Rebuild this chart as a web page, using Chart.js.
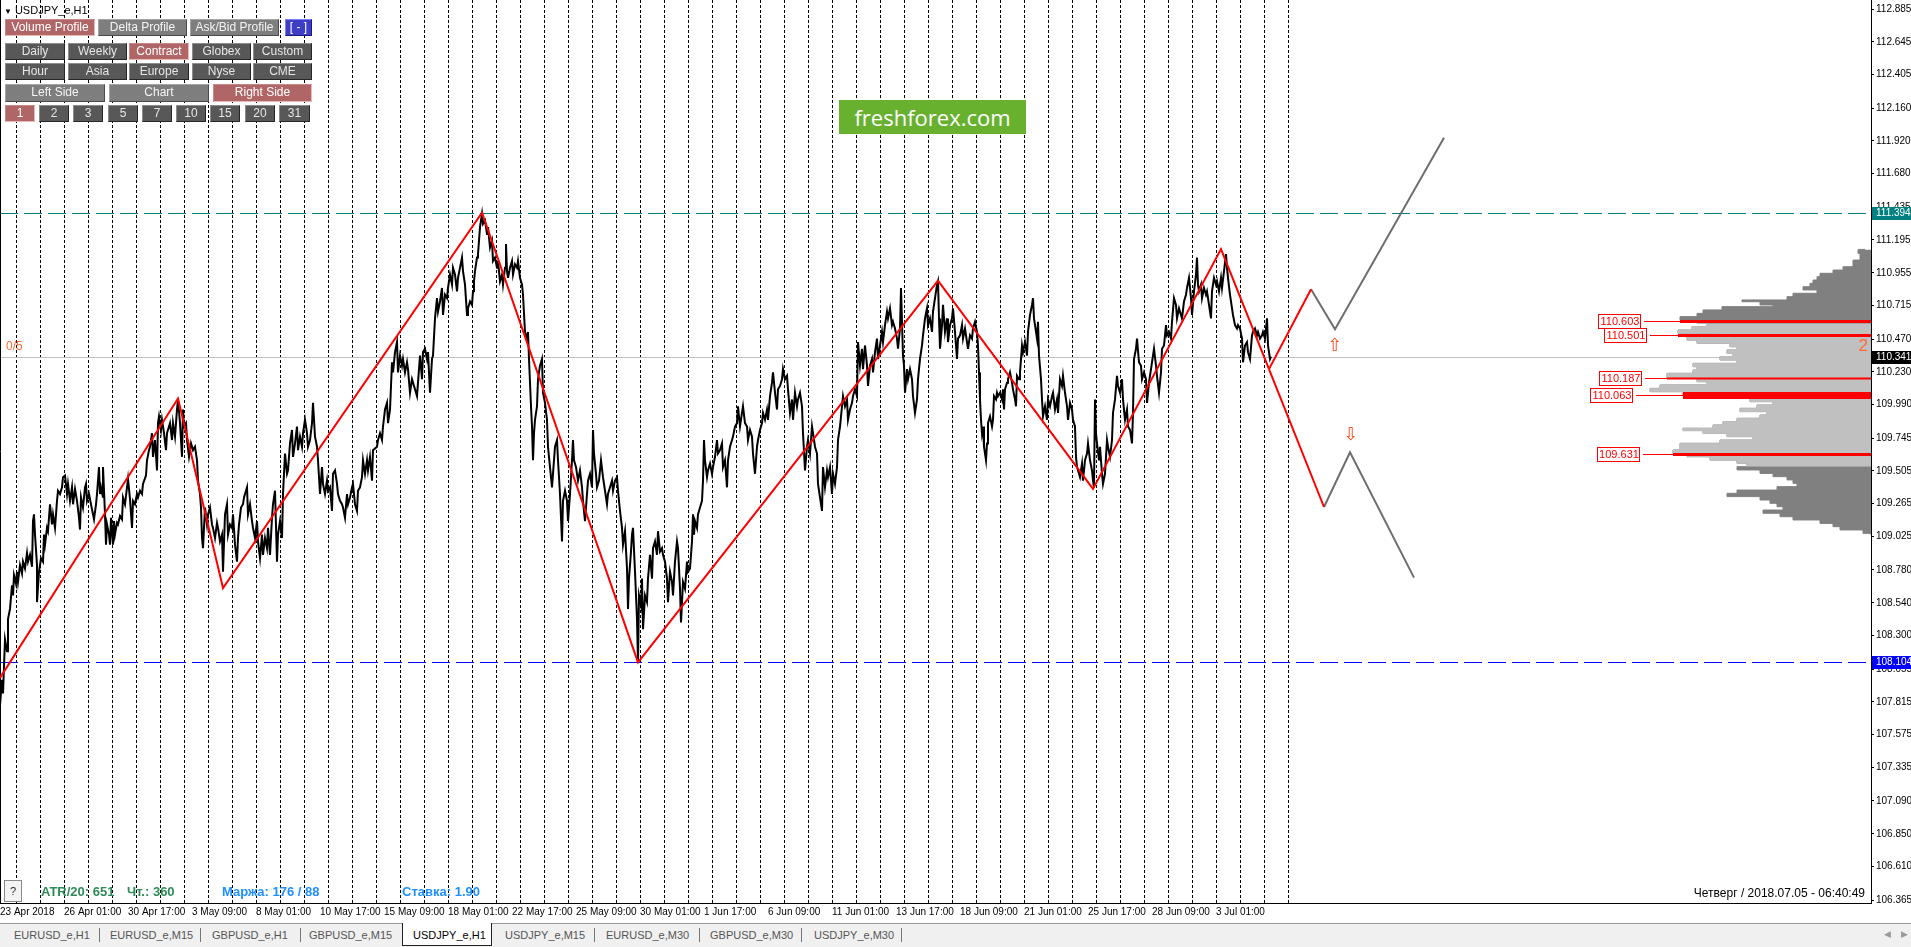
<!DOCTYPE html>
<html>
<head>
<meta charset="utf-8">
<script src="https://cdn.jsdelivr.net/npm/chart.js@4.4.1/dist/chart.umd.min.js"></script>
<style>
  html, body { margin: 0; padding: 0; width: 1911px; height: 947px; overflow: hidden; background: #fff; }
  #wrap { position: relative; width: 1911px; height: 947px; font-family: "Liberation Sans", Arial, sans-serif; }
  #c { position: absolute; left: 0; top: 0; }
  .title { position: absolute; left: 4px; top: 4px; font-size: 11px; color: #000; }
  .title b { font-size: 8px; font-weight: normal; margin-right: 3px; }
  .btn { position: absolute; height: 17px; box-sizing: border-box; font-size: 12px; line-height: 15px; text-align: center;
         color: #e6e6e6; background: #585858; border: 1px solid; border-color: #8c8c8c #262626 #262626 #8c8c8c; white-space: nowrap; overflow: hidden; }
  .btn.lt { background: #7e7e7e; color: #f4f4f4; border-color: #a5a5a5 #4b4b4b #4b4b4b #a5a5a5; }
  .btn.on { background: #b06666; color: #fff; border-color: #c48888 #ecb8b8 #ecb8b8 #c48888; }
  .btn.bl { background: #3d3dc6; color: #fff; border-color: #8080ff #1a1a80 #1a1a80 #8080ff; }
  .logo { position: absolute; left: 839px; top: 100px; width: 187px; height: 34px; background: #68b12f; color: #fff;
          font: 22px "Open Sans", sans-serif; line-height: 34px; text-align: center; }
  .stat { position: absolute; top: 884px; font-size: 13px; font-weight: bold; }
  .qbox { position: absolute; left: 4px; top: 880px; width: 18px; height: 22px; box-sizing: border-box; border: 1px solid #8a8a8a;
          background: #f4f4f4; font-size: 11px; text-align: center; line-height: 20px; color: #333; }
  .clock { position: absolute; right: 46px; top: 886px; font-size: 12px; color: #000; }
  .tabs { position: absolute; left: 0; top: 923px; width: 1911px; height: 24px; background: #f0f0f0; border-top: 1px solid #9a9a9a; box-sizing: border-box; }
  .tab { position: absolute; top: 5px; font-size: 11px; color: #555; }
  .sep { position: absolute; top: 4px; width: 1px; height: 14px; background: #777; }
  .tab.act { color: #000; }
  .actbox { position: absolute; left: 402px; top: -1px; width: 90px; height: 23px; background: #fff; border: 1px solid #222; border-top: none; box-sizing: border-box; }
  .scr { position: absolute; top: 5px; font-size: 9px; color: #999; }
</style>
</head>
<body>
<div id="wrap">
  <canvas id="c" width="1911" height="923"></canvas>

  <div class="title"><b>▼</b>USDJPY_e,H1</div>

  <div class="btn on" style="left:5px;top:19px;width:90px">Volume Profile</div>
  <div class="btn lt" style="left:98px;top:19px;width:89px">Delta Profile</div>
  <div class="btn lt" style="left:190px;top:19px;width:89px">Ask/Bid Profile</div>
  <div class="btn bl" style="left:285px;top:19px;width:27px">[ - ]</div>

  <div class="btn" style="left:5px;top:43px;width:60px">Daily</div>
  <div class="btn" style="left:68px;top:43px;width:59px">Weekly</div>
  <div class="btn on" style="left:129px;top:43px;width:60px">Contract</div>
  <div class="btn" style="left:192px;top:43px;width:59px">Globex</div>
  <div class="btn" style="left:253px;top:43px;width:59px">Custom</div>

  <div class="btn" style="left:5px;top:63px;width:60px">Hour</div>
  <div class="btn" style="left:68px;top:63px;width:59px">Asia</div>
  <div class="btn" style="left:129px;top:63px;width:60px">Europe</div>
  <div class="btn" style="left:192px;top:63px;width:59px">Nyse</div>
  <div class="btn" style="left:253px;top:63px;width:59px">CME</div>

  <div class="btn lt" style="left:5px;top:84px;width:100px;height:18px">Left Side</div>
  <div class="btn lt" style="left:109px;top:84px;width:100px;height:18px">Chart</div>
  <div class="btn on" style="left:213px;top:84px;width:99px;height:18px">Right Side</div>

  <div class="btn on" style="left:5px;top:105px;width:30px">1</div>
  <div class="btn" style="left:39px;top:105px;width:30px">2</div>
  <div class="btn" style="left:73px;top:105px;width:30px">3</div>
  <div class="btn" style="left:108px;top:105px;width:30px">5</div>
  <div class="btn" style="left:142px;top:105px;width:30px">7</div>
  <div class="btn" style="left:176px;top:105px;width:30px">10</div>
  <div class="btn" style="left:210px;top:105px;width:30px">15</div>
  <div class="btn" style="left:245px;top:105px;width:30px">20</div>
  <div class="btn" style="left:279px;top:105px;width:31px">31</div>

  <div class="logo">freshforex.com</div>

  <div class="qbox">?</div>
  <div class="stat" style="left:41px;color:#2e8b57">ATR/20: 651</div>
  <div class="stat" style="left:127px;color:#2e8b57">Чт.: 360</div>
  <div class="stat" style="left:222px;color:#1e90ff">Маржа: 176 / 88</div>
  <div class="stat" style="left:402px;color:#1e90ff">Ставка: 1.90</div>
  <div class="clock">Четверг / 2018.07.05 - 06:40:49</div>

  <div class="tabs">
    <div class="actbox"></div>
    <div class="tab" style="left:14px">EURUSD_e,H1</div>
    <div class="sep" style="left:99px"></div>
    <div class="tab" style="left:110px">EURUSD_e,M15</div>
    <div class="sep" style="left:200px"></div>
    <div class="tab" style="left:212px">GBPUSD_e,H1</div>
    <div class="sep" style="left:300px"></div>
    <div class="tab" style="left:309px">GBPUSD_e,M15</div>
    <div class="tab act" style="left:413px">USDJPY_e,H1</div>
    <div class="tab" style="left:505px">USDJPY_e,M15</div>
    <div class="sep" style="left:594px"></div>
    <div class="tab" style="left:606px">EURUSD_e,M30</div>
    <div class="sep" style="left:699px"></div>
    <div class="tab" style="left:710px">GBPUSD_e,M30</div>
    <div class="sep" style="left:801px"></div>
    <div class="tab" style="left:814px">USDJPY_e,M30</div>
    <div class="sep" style="left:901px"></div>
    <div class="scr" style="left:1884px">◀</div>
    <div class="scr" style="left:1901px">▶</div>
  </div>
</div>

<script>
// time axis (bar index -> label)
const timeTicks = [0, 64, 128, 192, 256, 320, 384, 448, 512, 576, 640, 704, 768, 832, 896, 960, 1024, 1088, 1152, 1216];
const timeLabels = ["23 Apr 2018", "26 Apr 01:00", "30 Apr 17:00", "3 May 09:00", "8 May 01:00", "10 May 17:00",
  "15 May 09:00", "18 May 01:00", "22 May 17:00", "25 May 09:00", "30 May 01:00", "1 Jun 17:00", "6 Jun 09:00",
  "11 Jun 01:00", "13 Jun 17:00", "18 Jun 09:00", "21 Jun 01:00", "25 Jun 17:00", "28 Jun 09:00", "3 Jul 01:00"];

// price axis
const priceTicks = [112.885, 112.645, 112.405, 112.160, 111.920, 111.680, 111.435, 111.195, 110.955, 110.715,
  110.470, 110.230, 109.990, 109.745, 109.505, 109.265, 109.025, 108.780, 108.540, 108.300, 108.055, 107.815,
  107.575, 107.335, 107.090, 106.850, 106.610, 106.365];

// day separators (bar index)
const separators = [16, 40, 64, 88, 112, 136, 160, 184, 208, 232, 256, 280, 304, 328, 352, 376, 400, 424, 448,
  472, 496, 520, 544, 568, 592, 616, 640, 664, 688, 712, 736, 760, 784, 808, 832, 856, 880, 904, 928, 952, 976,
  1000, 1024, 1048, 1072, 1096, 1120, 1144, 1168, 1192, 1216, 1240, 1264, 1288];

// USDJPY H1 price path [bar, price]
const hourlyPath = [
  [0,107.790],[2,107.976],[3,107.877],[5,108.272],[7,108.186],[8,108.421],[10,108.495],[12,108.668],[13,108.594],[14,108.742],
  [16,108.680],[17,108.767],[18,108.693],[20,108.816],[22,108.755],[23,108.841],[25,108.792],[27,108.903],[28,108.841],[30,108.891],
  [32,108.804],[33,109.138],[34,109.187],[35,109.039],[37,108.816],[37,108.545],[39,108.767],[41,108.866],[43,108.841],[44,109.039],
  [45,108.965],[47,109.088],[48,109.064],[50,109.261],[52,109.113],[53,109.187],[55,109.088],[57,109.286],[58,109.360],[60,109.336],
  [62,109.385],[63,109.459],[65,109.472],[67,109.336],[68,109.410],[70,109.286],[72,109.385],[73,109.261],[75,109.373],[77,109.286],
  [79,109.162],[80,109.076],[81,109.311],[83,109.237],[85,109.385],[86,109.410],[87,109.286],[89,109.336],[91,109.261],[93,109.187],
  [94,109.150],[96,109.261],[97,109.336],[99,109.533],[100,109.336],[101,109.385],[103,109.311],[103,109.533],[105,109.187],[106,108.965],
  [107,109.113],[109,109.039],[110,108.965],[111,109.162],[113,108.965],[114,109.138],[115,109.039],[117,109.125],[118,109.113],[120,109.175],
  [122,109.150],[123,109.311],[125,109.261],[127,109.385],[128,109.447],[130,109.298],[132,109.088],[133,109.286],[135,109.261],[137,109.336],
  [138,109.311],[140,109.360],[142,109.336],[143,109.410],[146,109.472],[147,109.583],[149,109.657],[150,109.682],[152,109.781],[153,109.608],
  [155,109.731],[157,109.509],[158,109.855],[159,109.904],[161,109.805],[162,109.879],[164,109.781],[166,109.657],[167,109.781],[170,109.855],
  [172,109.731],[173,109.855],[175,109.756],[177,109.954],[178,110.028],[180,109.855],[182,109.608],[183,109.954],[184,109.830],[186,109.855],
  [187,109.731],[189,109.608],[191,109.706],[193,109.657],[195,109.682],[197,109.583],[198,109.434],[200,109.336],[201,109.237],[202,109.014],
  [203,108.940],[205,109.237],[207,109.113],[208,109.187],[210,109.237],[212,109.113],[213,109.088],[215,109.014],[217,109.125],[218,109.088],
  [220,108.989],[222,109.039],[223,108.767],[225,109.187],[227,109.261],[228,109.039],[230,109.113],[232,109.088],[233,109.187],[235,108.965],
  [237,108.841],[238,109.014],[239,109.113],[241,109.237],[243,109.261],[244,109.311],[247,109.385],[248,109.187],[250,109.261],[252,109.138],
  [253,109.088],[255,109.014],[257,109.138],[258,108.989],[260,108.866],[262,109.039],[263,108.891],[265,109.014],[267,108.940],[268,109.088],
  [270,108.891],[272,109.162],[273,109.261],[275,109.360],[277,108.841],[278,109.039],[280,109.138],[282,109.014],[283,109.336],[285,109.632],
  [287,109.484],[288,109.509],[290,109.706],[292,109.805],[293,109.608],[295,109.706],[297,109.830],[298,109.657],[300,109.756],[302,109.682],
  [303,109.781],[305,109.879],[307,109.781],[308,109.682],[310,109.731],[312,109.855],[313,110.003],[315,109.756],[317,109.682],[318,109.583],
  [320,109.336],[322,109.533],[323,109.410],[325,109.336],[327,109.434],[328,109.360],
  [330,109.385],[332,109.212],[333,109.484],[335,109.509],[337,109.410],[338,109.336],[340,109.286],[342,109.261],[343,109.237],[345,109.162],
  [347,109.336],[348,109.261],[350,109.311],[352,109.385],[353,109.410],[355,109.261],[357,109.212],[358,109.360],[360,109.385],[362,109.459],
  [363,109.583],[365,109.484],[367,109.583],[368,109.509],[370,109.608],[372,109.434],[373,109.657],[377,109.682],[378,109.731],[380,109.781],
  [382,109.731],[383,109.830],[385,109.954],[387,110.003],[388,109.855],[390,109.954],[392,110.300],[393,110.226],[395,110.374],[397,110.448],
  [398,110.226],[400,110.349],[402,110.275],[403,110.324],[405,110.226],[407,110.300],[408,110.250],[410,110.077],[412,110.176],[413,110.151],
  [415,110.102],[417,110.052],[418,110.151],[420,110.349],[422,110.176],[423,110.374],[425,110.399],[427,110.324],[428,110.374],[430,110.077],
  [432,110.324],[433,110.349],[435,110.621],[437,110.769],[438,110.671],[440,110.745],[442,110.844],[443,110.646],[445,110.794],[447,110.769],
  [448,110.844],[450,110.942],[452,110.868],[453,110.992],[455,110.942],[457,110.819],[458,110.918],[460,110.992],[462,111.066],[463,110.967],
  [465,110.868],[467,110.646],[468,110.695],[470,110.745],[472,110.720],[473,110.819],[474,110.893],[475,110.967],[477,111.066],[478,111.091],
  [480,111.289],[482,111.387],[483,111.313],[485,111.338],[487,111.239],[488,111.289],[490,111.140],[492,111.190],[493,111.041],[495,111.066],
  [497,110.992],[498,111.041],[500,110.893],[502,110.942],[503,110.868],[505,110.992],[506,111.165],[507,110.967],[508,110.918],[510,110.992],
  [512,111.041],[513,110.942],[515,111.017],[517,110.992],[518,111.041],[520,110.918],[522,110.868],[523,110.794],[525,110.522],[527,110.473],
  [528,110.522],[529,110.324],[531,109.978],[532,109.830],[533,109.583],[534,109.781],[535,109.879],[537,109.978],[538,110.176],[540,110.275],
  [542,110.324],[543,110.077],[545,110.003],[547,109.879],[548,109.682],[550,109.533],[552,109.385],[553,109.484],[555,109.682],[557,109.731],
  [558,109.583],[560,109.336],[562,108.989],[563,109.286],[565,109.360],[567,109.286],[568,109.138],[570,109.336],[572,109.583],[573,109.731],
  [574,109.583],[576,109.533],[578,109.434],[580,109.509],[582,109.385],[583,109.286],[585,109.138],[587,109.336],[588,109.434],[590,109.484],
  [592,109.385],[593,109.805],[594,109.632],[596,109.484],[597,109.385],[599,109.434],[601,109.583],[603,109.459],[605,109.360],[607,109.261],
  [608,109.336],[610,109.385],[612,109.434],[613,109.360],[615,109.434],[617,109.459],[618,109.360],[620,109.212],[622,109.088],[623,108.965],
  [625,109.064],[627,108.792],[628,108.495],[629,108.717],[631,108.915],[632,109.039],[633,109.088],[635,108.767],[637,108.421],[638,108.104],
  [639,108.594],[641,108.520],[642,108.717],[643,108.347],[645,108.594],[647,108.545],[648,108.717],
  [650,108.891],[652,108.717],[653,108.940],[655,108.989],[657,108.891],[658,109.064],[660,108.915],[662,108.940],[663,108.891],[665,108.841],
  [667,108.717],[668,108.545],[670,108.767],[672,108.693],[673,108.594],[675,108.841],[677,108.989],[678,108.940],[680,108.643],[681,108.396],
  [683,108.693],[685,108.643],[687,108.841],[688,108.767],[690,108.792],[692,108.989],[693,109.187],[694,109.039],[695,109.138],[697,109.088],
  [698,109.187],[700,109.237],[702,109.286],[703,109.434],[704,109.731],[705,109.583],[707,109.459],[708,109.509],[710,109.558],[712,109.484],
  [713,109.533],[715,109.608],[717,109.731],[718,109.632],[720,109.657],[722,109.706],[723,109.533],[725,109.583],[727,109.385],[728,109.583],
  [730,109.682],[732,109.731],[733,109.756],[735,109.830],[737,109.855],[738,109.978],[740,109.830],[742,109.929],[743,109.978],[745,109.855],
  [747,109.830],[748,109.731],[750,109.805],[752,109.756],[753,109.632],[755,109.484],[757,109.682],[758,109.731],[760,109.805],[762,109.855],
  [763,109.929],[765,109.879],[767,109.954],[768,109.879],[770,110.052],[772,110.151],[773,110.226],[775,110.077],[777,109.954],[778,110.102],
  [780,110.127],[782,110.176],[783,110.250],[785,110.176],[787,110.201],[788,110.102],[790,109.929],[792,110.028],[793,109.879],[795,110.077],
  [797,109.978],[798,110.028],[800,110.077],[802,109.978],[803,109.781],[805,109.509],[807,109.682],[808,109.731],[810,109.632],[812,109.830],
  [813,109.781],[815,109.682],[817,109.632],[818,109.410],[820,109.311],[822,109.212],[823,109.533],[825,109.385],[827,109.509],[828,109.459],
  [830,109.533],[832,109.336],[833,109.484],[835,109.410],[837,109.533],[838,109.731],[840,109.830],[842,109.978],[843,110.052],[845,109.978],
  [847,110.028],[848,109.879],[850,109.954],[852,110.003],[853,110.052],[855,110.102],[857,110.052],[858,110.448],[860,110.275],[862,110.399],
  [863,110.250],[865,110.423],[867,110.275],[868,110.127],[870,110.275],[872,110.324],[873,110.226],[875,110.374],[877,110.473],[878,110.324],
  [880,110.423],[882,110.522],[883,110.448],[885,110.572],[887,110.671],[888,110.621],[890,110.695],[892,110.572],[893,110.596],[895,110.547],
  [897,110.473],[898,110.399],[900,110.547],[901,110.844],[903,110.349],[904,110.275],[905,110.077],[907,110.250],[908,110.176],[910,110.250],
  [912,110.176],[913,110.052],[915,109.929],[917,110.028],[918,110.176],[920,110.324],[922,110.423],[923,110.497],[925,110.621],[927,110.695],
  [928,110.572],[930,110.621],[932,110.522],[933,110.671],[935,110.769],[937,110.868],[938,110.893],[939,110.621],[940,110.399],[942,110.572],
  [943,110.720],[945,110.522],[947,110.621],[948,110.448],[950,110.572],[952,110.621],[953,110.695],[955,110.522],[957,110.324],[958,110.473],
  [960,110.497],
  [962,110.572],[963,110.473],[965,110.547],[967,110.448],[968,110.399],[970,110.497],[972,110.473],[973,110.547],[975,110.596],[977,110.522],
  [978,110.423],[979,110.226],[980,110.028],[981,109.879],[982,109.781],[983,109.830],[984,109.682],[986,109.583],[987,109.706],[988,109.855],
  [990,109.904],[992,109.830],[993,109.879],[994,110.052],[996,110.028],[997,110.077],[998,110.052],[1000,110.077],[1002,110.028],[1003,110.102],
  [1004,109.954],[1005,110.102],[1007,110.151],[1008,110.176],[1010,110.226],[1012,110.151],[1013,110.102],[1015,110.028],[1016,109.978],[1017,110.201],
  [1019,110.176],[1020,110.226],[1022,110.423],[1023,110.374],[1025,110.448],[1027,110.349],[1028,110.522],[1030,110.646],[1032,110.720],[1033,110.769],
  [1034,110.621],[1035,110.572],[1037,110.473],[1038,110.596],[1039,110.349],[1041,110.176],[1042,110.028],[1043,109.904],[1045,109.978],[1047,109.879],
  [1048,110.028],[1050,109.978],[1052,110.052],[1053,110.077],[1055,109.954],[1057,110.028],[1058,109.929],[1060,110.176],[1062,110.127],[1063,110.201],
  [1065,110.077],[1067,109.978],[1068,109.879],[1070,110.003],[1072,109.954],[1073,109.879],[1075,109.830],[1076,109.608],[1077,109.533],[1079,109.484],
  [1080,109.459],[1082,109.558],[1083,109.434],[1085,109.583],[1087,109.632],[1088,109.706],[1090,109.583],[1092,109.509],[1093,109.434],[1094,109.385],
  [1095,110.028],[1096,109.781],[1097,109.706],[1099,109.583],[1100,109.682],[1102,109.484],[1103,109.410],[1105,109.484],[1107,109.731],[1108,109.682],
  [1110,109.608],[1112,109.731],[1113,109.929],[1115,110.028],[1117,110.201],[1118,110.127],[1120,110.077],[1122,110.176],[1123,110.028],[1125,109.879],
  [1127,109.954],[1128,109.830],[1130,109.805],[1132,109.706],[1133,109.929],[1134,110.324],[1136,110.399],[1137,110.473],[1139,110.300],[1141,110.275],
  [1142,110.176],[1144,110.226],[1146,110.176],[1147,110.003],[1149,110.151],[1151,110.250],[1152,110.300],[1154,110.399],[1156,110.275],[1157,110.201],
  [1159,110.077],[1161,110.226],[1162,110.399],[1164,110.423],[1166,110.572],[1167,110.497],[1169,110.522],[1171,110.473],[1172,110.596],[1174,110.769],
  [1176,110.720],[1177,110.621],[1179,110.695],[1181,110.646],[1182,110.621],[1184,110.745],[1186,110.794],[1187,110.844],[1189,110.918],[1191,110.769],
  [1192,110.646],[1194,110.819],[1196,110.942],[1197,111.066],[1198,110.868],[1199,110.819],[1201,110.868],[1202,110.769],[1204,110.844],[1206,110.794],
  [1207,110.819],[1209,110.720],[1211,110.621],[1212,110.819],[1214,110.918],[1216,110.868],[1217,110.893],[1219,110.819],[1221,110.918],[1222,110.844],
  [1224,110.967],[1226,111.091],[1227,110.992],[1228,110.918],[1230,110.794],[1232,110.695],[1233,110.646],[1235,110.572],[1237,110.547],[1238,110.572],
  [1240,110.547],[1242,110.473],[1243,110.300],[1245,110.423],[1247,110.448],[1248,110.374],[1250,110.324],[1252,110.497],[1253,110.522],[1255,110.547],
  [1257,110.497],[1258,110.522],[1260,110.473],[1262,110.497],[1263,110.522],[1265,110.473],[1267,110.621],[1268,110.423],[1270,110.324],[1271,110.341]
];

// ZigZag and projections
const zigzagX = [0, 178, 223, 482, 638, 938, 1093, 1221, 1269];
const zigzagY = [107.990, 110.035, 108.648, 111.394, 108.104, 110.898, 109.373, 111.128, 110.250];
const upLegX = [1269, 1311];
const upLegY = [110.250, 110.834];
const upProjX = [1311, 1335, 1444];
const upProjY = [110.834, 110.541, 111.943];
const downLegX = [1269, 1324];
const downLegY = [110.250, 109.241];
const downProjX = [1324, 1350, 1414];
const downProjY = [109.241, 109.642, 108.724];
const signalX = [1335, 1351];
const signalY = [110.418, 109.763];

// levels
const highLevel = 111.394;
const lowLevel = 108.104;
const lastPrice = 110.341;

// volume profile (price level -> volume)
const profilePrice = [111.126, 111.097, 111.048, 110.999, 110.975, 110.951, 110.926, 110.902, 110.878, 110.853,
  110.829, 110.805, 110.780, 110.756, 110.743, 110.719, 110.707, 110.683, 110.658, 110.634, 110.609, 110.585,
  110.561, 110.536, 110.512, 110.487, 110.463, 110.439, 110.414, 110.390, 110.365, 110.341, 110.317, 110.292,
  110.268, 110.243, 110.219, 110.183, 110.158, 110.134, 110.109, 110.085, 110.061, 110.036, 110.012, 109.987,
  109.963, 109.939, 109.914, 109.890, 109.865, 109.841, 109.817, 109.800, 109.780, 109.756, 109.731, 109.707,
  109.683, 109.658, 109.634, 109.609, 109.585, 109.561, 109.536, 109.512, 109.487, 109.463, 109.439, 109.414,
  109.390, 109.365, 109.341, 109.317, 109.292, 109.268, 109.243, 109.219, 109.195, 109.170, 109.146, 109.121,
  109.097, 109.073, 109.048, 109.036];
const profileVolume = [6, 13, 11, 18, 28, 38, 51, 54, 58, 61, 68, 54, 78, 84, 129, 111, 98, 149, 168, 174, 191,
  174, 164, 179, 193, 156, 184, 174, 141, 134, 144, 138, 151, 134, 178, 174, 178, 204, 174, 164, 211, 221, 188,
  144, 121, 98, 114, 131, 104, 111, 134, 148, 158, 188, 168, 144, 118, 151, 191, 191, 198, 184, 161, 134, 124,
  134, 111, 98, 84, 78, 74, 94, 134, 144, 111, 101, 94, 88, 108, 91, 78, 51, 38, 31, 8, 0];
const valueAreaHigh = 110.585;
const valueAreaLow = 109.517;
const pocLevels = [110.603, 110.501, 110.187, 110.063, 109.631];

const FONT = '"Liberation Sans", Arial, sans-serif';
const pts = (xs, ys) => xs.map((x, i) => ({ x, y: ys[i] }));

const profileAll = profilePrice.map((p, i) => ({ x: profileVolume[i], y: p }));
const profileVA = profileAll.filter(d => d.y <= valueAreaHigh && d.y >= valueAreaLow);

const pocLabelRight = [1641, 1647, 1642, 1633, 1640];
const pocThick = [3, 3, 2, 7, 3];

const mtPlugin = {
  id: "mt",
  beforeDatasetsDraw(chart) {
    const { ctx, chartArea: a, scales: { x, y } } = chart;
    ctx.save();
    ctx.strokeStyle = "#000";
    ctx.lineWidth = 1;
    ctx.setLineDash([3, 2]);
    separators.forEach(v => {
      const px = Math.round(x.getPixelForValue(v)) + 0.5;
      ctx.beginPath();
      ctx.moveTo(px, a.top);
      ctx.lineTo(px, a.bottom);
      ctx.stroke();
    });
    ctx.setLineDash([18, 6]);
    [[highLevel, "#008080"], [lowLevel, "#0000ff"]].forEach(([v, c]) => {
      const py = Math.round(y.getPixelForValue(v)) + 0.5;
      ctx.strokeStyle = c;
      ctx.beginPath();
      ctx.moveTo(a.left, py);
      ctx.lineTo(a.right, py);
      ctx.stroke();
    });
    ctx.setLineDash([]);
    ctx.strokeStyle = "#c0c0c0";
    const pl = Math.round(y.getPixelForValue(lastPrice)) + 0.5;
    ctx.beginPath();
    ctx.moveTo(a.left, pl);
    ctx.lineTo(a.right, pl);
    ctx.stroke();
    ctx.strokeStyle = "#000";
    ctx.beginPath();
    ctx.moveTo(0.5, a.top);
    ctx.lineTo(0.5, a.bottom);
    ctx.stroke();
    ctx.restore();
  },
  afterDatasetsDraw(chart) {
    const { ctx, chartArea: a, scales: { x, y, xp } } = chart;
    ctx.save();
    pocLevels.forEach((lv, i) => {
      const py = Math.round(y.getPixelForValue(lv)) + 0.5;
      let k = 0;
      profilePrice.forEach((p, j) => { if (Math.abs(p - lv) < Math.abs(profilePrice[k] - lv)) k = j; });
      const left = xp.getPixelForValue(profileVolume[k]);
      const r = pocLabelRight[i];
      ctx.strokeStyle = "#ff0000";
      ctx.lineWidth = 1;
      ctx.beginPath();
      ctx.moveTo(r + 3, py);
      ctx.lineTo(a.right, py);
      ctx.stroke();
      ctx.fillStyle = "#ff0000";
      ctx.fillRect(left, py - pocThick[i] / 2, a.right - left, pocThick[i]);
      ctx.fillStyle = "#fff";
      ctx.fillRect(r - 43, py - 7.5, 43, 14);
      ctx.strokeRect(r - 42.5, py - 7, 42, 14);
      ctx.fillStyle = "#ff0000";
      ctx.font = "11px " + FONT;
      ctx.textAlign = "center";
      ctx.textBaseline = "middle";
      ctx.fillText(lv.toFixed(3), r - 21, py + 0.5);
    });
    ctx.font = '18px "DejaVu Sans"';
    ctx.fillStyle = "#ff4a1a";
    ctx.textAlign = "center";
    ctx.textBaseline = "middle";
    ctx.fillText("⇧", x.getPixelForValue(signalX[0]), y.getPixelForValue(signalY[0]));
    ctx.fillText("⇩", x.getPixelForValue(signalX[1]), y.getPixelForValue(signalY[1]));
    const pl = y.getPixelForValue(lastPrice);
    ctx.fillStyle = "#ff6a33";
    ctx.font = "12px " + FONT;
    ctx.textAlign = "left";
    ctx.fillText("0/5", a.left + 6, pl - 10);
    ctx.font = "17px " + FONT;
    ctx.textAlign = "right";
    ctx.fillText("2", a.right - 3, pl - 10);
    ctx.restore();
  },
  afterDraw(chart) {
    const { ctx, chartArea: a, scales: { y } } = chart;
    ctx.save();
    [[highLevel, "#008080"], [lastPrice, "#000000"], [lowLevel, "#0000ff"]].forEach(([v, c]) => {
      const py = Math.round(y.getPixelForValue(v));
      ctx.fillStyle = c;
      ctx.fillRect(a.right + 1, py - 6, 40, 13);
      ctx.fillStyle = "#fff";
      ctx.font = "10px " + FONT;
      ctx.textAlign = "left";
      ctx.textBaseline = "middle";
      ctx.fillText(v.toFixed(3), a.right + 5, py + 0.5);
    });
    ctx.restore();
  }
};

new Chart(document.getElementById("c").getContext("2d"), {
  type: "line",
  data: {
    datasets: [
      { label: "ZigZag", data: pts(zigzagX, zigzagY), borderColor: "#ff0000", borderWidth: 2, order: 0 },
      { label: "Up leg", data: pts(upLegX, upLegY), borderColor: "#ff0000", borderWidth: 2, order: 0 },
      { label: "Down leg", data: pts(downLegX, downLegY), borderColor: "#ff0000", borderWidth: 2, order: 0 },
      { label: "USDJPY", data: hourlyPath.map(d => ({ x: d[0], y: d[1] })), borderColor: "#000000", borderWidth: 2, order: 1 },
      { label: "Up target", data: pts(upProjX, upProjY), borderColor: "#6e6e6e", borderWidth: 2, order: 2 },
      { label: "Down target", data: pts(downProjX, downProjY), borderColor: "#6e6e6e", borderWidth: 2, order: 2 },
      { label: "Value area", data: profileVA, indexAxis: "y", xAxisID: "xp", yAxisID: "y", stepped: true,
        fill: "origin", backgroundColor: "#c0c0c0", borderColor: "#c0c0c0", borderWidth: 1, order: 3 },
      { label: "Profile", data: profileAll, indexAxis: "y", xAxisID: "xp", yAxisID: "y", stepped: true,
        fill: "origin", backgroundColor: "#808080", borderColor: "#808080", borderWidth: 1, order: 4 }
    ]
  },
  options: {
    responsive: false,
    animation: false,
    devicePixelRatio: 1,
    layout: { padding: 0 },
    elements: { point: { radius: 0 }, line: { tension: 0 } },
    plugins: { legend: { display: false }, tooltip: { enabled: false } },
    scales: {
      x: {
        type: "linear", min: 0, max: 1871, position: "bottom",
        grid: { display: false, drawTicks: false },
        border: { display: true, color: "#000" },
        ticks: { autoSkip: false, maxRotation: 0, align: "start", padding: 3, color: "#000",
          font: { family: FONT, size: 10 }, callback: (v, i) => timeLabels[i] },
        afterBuildTicks: s => { s.ticks = timeTicks.map(v => ({ value: v })); },
        afterFit: s => { s.height = 20; s.paddingLeft = 0; s.paddingRight = 0; }
      },
      y: {
        type: "linear", position: "right", min: 106.3433, max: 112.9509,
        grid: { drawOnChartArea: false, drawTicks: true, tickLength: 3, color: "#000" },
        border: { display: true, color: "#000" },
        ticks: { padding: 2, color: "#000", font: { family: FONT, size: 10 }, callback: v => Number(v).toFixed(3) },
        afterBuildTicks: s => { s.ticks = priceTicks.map(v => ({ value: v })); },
        afterFit: s => { s.width = 40; s.paddingTop = 0; s.paddingBottom = 0; }
      },
      xp: { type: "linear", min: 0, max: 1871, reverse: true, display: false }
    }
  },
  plugins: [mtPlugin]
});
</script>
</body>
</html>
